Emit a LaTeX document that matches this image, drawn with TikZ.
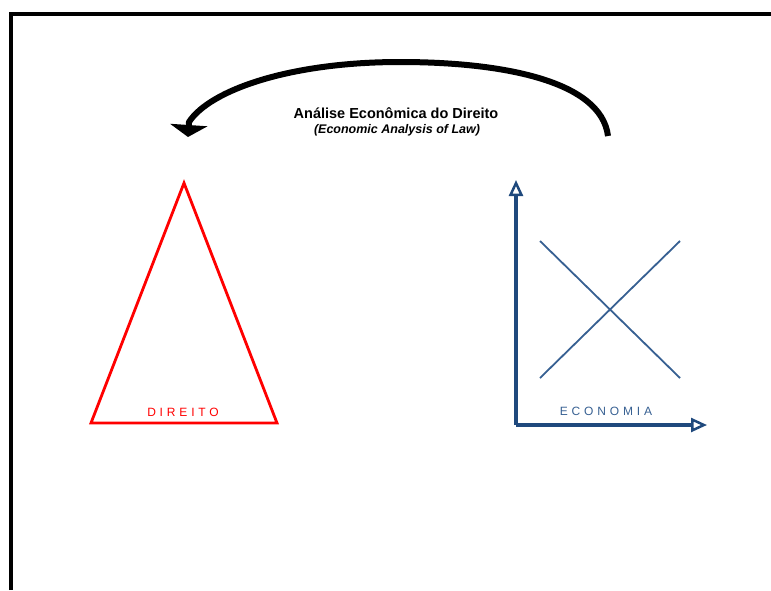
\documentclass[tikz,border=0pt]{standalone}
\usepackage{fontspec}
\setmainfont{Liberation Sans}
\usepackage{xcolor}
\usetikzlibrary{arrows.meta}
\definecolor{lawred}{RGB}{255,0,0}
\definecolor{econblue}{RGB}{31,73,125}
\definecolor{curveblue}{RGB}{55,96,146}

\tikzset{
  spaced/.style={font=\fontsize{12}{14}\selectfont\addfontfeature{LetterSpace=32}},
  axis/.style={econblue, line width=3.5pt, -{Triangle[open, width=14pt, length=16pt, line width=2.5pt]}},
}

\begin{document}
\begin{tikzpicture}[x=1pt, y=-1pt]

% Canvas
\useasboundingbox (0,0) rectangle (771,590);

% Frame (left and top edges)
\draw[line width=4pt] (11,590) -- (11,14) -- (771,14);

% Title
\node (title) at (396,113) {\fontsize{14.5}{17}\selectfont\bfseries Análise Econômica do Direito};
\node (subtitle) at (397,130) {\fontsize{12.5}{14}\selectfont\bfseries\itshape (Economic Analysis of Law)};

% Curved arrow
\coordinate (from) at (608,136);
\coordinate (top) at (400,62);
\coordinate (to) at (188,137);
\draw[line width=6pt, line join=round, -{Triangle[width=37pt, length=12pt]}]
  (from) .. controls (601,80) and (500,62) .. (top)
         .. controls (290,62) and (210,90) .. (189,122) -- (to);

% Triangle (law)
\coordinate (apex) at (184,183);
\coordinate (baseL) at (91,423);
\coordinate (baseR) at (277,423);
\draw[lawred, line width=2.8pt, line join=miter] (apex) -- (baseR) -- (baseL) -- cycle;
\node[spaced, text=lawred] (direito) at (183,412) {DIREITO};

% Axes (economics)
\coordinate (origin) at (516,425);
\coordinate (ytip) at (516,180);
\coordinate (xtip) at (707,425);
\draw[axis] (origin) -- (ytip);
\draw[axis] (origin) -- (xtip);

% Supply and demand
\coordinate (d1) at (540,241);
\coordinate (d2) at (680,378);
\coordinate (s1) at (540,378);
\coordinate (s2) at (680,241);
\draw[curveblue, line width=1.8pt] (d1) -- (d2);
\draw[curveblue, line width=1.8pt] (s1) -- (s2);
\node[spaced, text=curveblue] (economia) at (606,411) {ECONOMIA};

\end{tikzpicture}
\end{document}
